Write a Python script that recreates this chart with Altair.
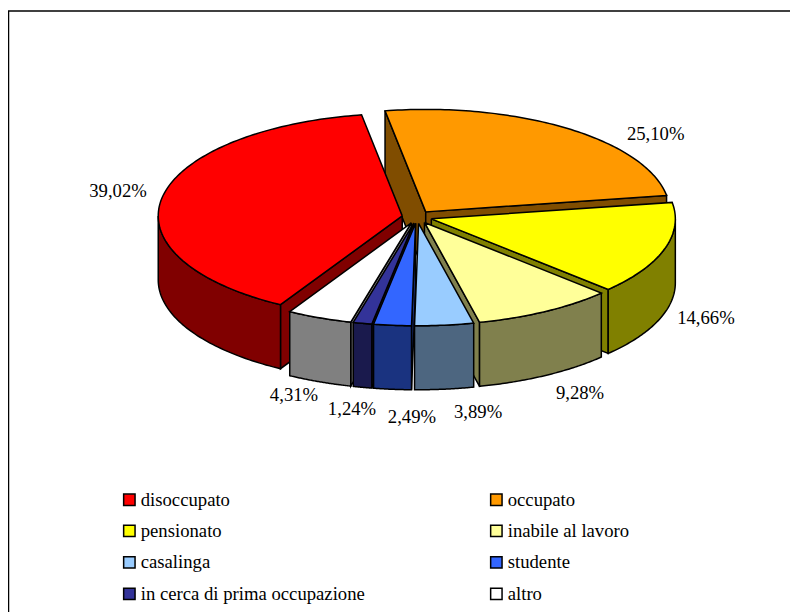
import math
import altair as alt
import pandas as pd

categories = ["disoccupato", "occupato", "pensionato", "inabile al lavoro", "casalinga",
              "studente", "in cerca di prima occupazione", "altro"]
values = [39.02, 25.10, 14.66, 9.28, 3.89, 2.49, 1.24, 4.31]
value_labels = ["39,02%", "25,10%", "14,66%", "9,28%", "3,89%", "2,49%", "1,24%", "4,31%"]
top_colors = ["#FF0000", "#FF9900", "#FFFF00", "#FFFF99", "#99CCFF", "#3366FF", "#333399", "#FFFFFF"]
wall_colors = ["#800000", "#804D00", "#808000", "#80804D", "#4D6680", "#1A3380", "#1A1A4D", "#808080"]

# 3-D pie view settings
FIRST_ANGLE = -150.07
CX, CY = 417.0, 217.0
RX, K, DEPTH, EXPLODE = 244.0, 0.42, 64.0, 15.0
label_dx = [-44, 88, 41.5, 34.5, 33.8, 19.5, -10.5, -25.4]
label_dy = [-7, 5.5, 69, 81.6, 86.8, 91.7, 85.6, 77]
FONT = "Liberation Serif"
FS = 18.7


def pt(ang, r, ax, ay, drop=0.0):
    t = math.radians(ang)
    return ax + r * math.sin(t), ay - K * r * math.cos(t) + drop


walls, tops, labels = [], [], []
slices = []
start = FIRST_ANGLE
for i, v in enumerate(values):
    end = start + v * 3.6
    slices.append((i, start, end, (start + end) / 2))
    start = end


def add(rows, pid, pts, **kw):
    for s, (x, y) in enumerate(pts):
        rows.append(dict(pid=pid, seq=s, x=x, y=y, **kw))


pid = 0
for i, a, b, mid in sorted(slices, key=lambda s: -math.cos(math.radians(s[3]))):
    ax, ay = pt(mid, EXPLODE, CX, CY)
    if math.sin(math.radians(a)) < 0:
        e = pt(a, RX, ax, ay)
        add(walls, pid, [(ax, ay), e, (e[0], e[1] + DEPTH), (ax, ay + DEPTH), (ax, ay)], wall=wall_colors[i])
        pid += 1
    if math.sin(math.radians(b)) > 0:
        e = pt(b, RX, ax, ay)
        add(walls, pid, [(ax, ay), e, (e[0], e[1] + DEPTH), (ax, ay + DEPTH), (ax, ay)], wall=wall_colors[i])
        pid += 1
    # outer rim wall: the part of the arc that faces the viewer
    vis = []
    for shift in (0, 360, -360):
        lo, hi = max(a, 90 + shift), min(b, 270 + shift)
        if hi > lo:
            vis = [lo + (hi - lo) * n / 60 for n in range(61)]
            break
    if vis:
        upper = [pt(t, RX, ax, ay) for t in vis]
        lower = [pt(t, RX, ax, ay, DEPTH) for t in reversed(vis)]
        add(walls, pid, upper + lower + [upper[0]], wall=wall_colors[i])
        pid += 1

for i, a, b, mid in slices:
    ax, ay = pt(mid, EXPLODE, CX, CY)
    n = max(4, int(b - a))
    rim = [pt(a + (b - a) * j / n, RX, ax, ay) for j in range(n + 1)]
    add(tops, 100 + i, [(ax, ay)] + rim + [(ax, ay)], cat=categories[i])
    rx, ry = pt(mid, RX + EXPLODE, CX, CY)
    labels.append(dict(x=rx + label_dx[i], y=ry + label_dy[i], t=value_labels[i]))

xs = alt.Scale(domain=[8, 790], range=[0, 782])
ys = alt.Scale(domain=[8, 612], range=[0, 604])
X = alt.X("x:Q", scale=xs, axis=None)
Y = alt.Y("y:Q", scale=ys, axis=None)

wall_layer = alt.Chart(pd.DataFrame(walls)).mark_line(
    stroke="black", strokeWidth=1.5, strokeJoin="miter", interpolate="linear", clip=False
).encode(
    x=X, y=Y, order="seq:Q", detail="pid:N",
    fill=alt.Fill("wall:N", scale=None, legend=None),
)

top_layer = alt.Chart(pd.DataFrame(tops)).mark_line(
    stroke="black", strokeWidth=1.5, strokeJoin="miter", interpolate="linear", clip=False
).encode(
    x=X, y=Y, order="seq:Q", detail="pid:N",
    fill=alt.Fill(
        "cat:N",
        scale=alt.Scale(domain=categories, range=top_colors),
        sort=categories,
        legend=alt.Legend(
            title=None, orient="none", legendX=112, legendY=482, columns=2, direction="horizontal",
            columnPadding=122, rowPadding=11.5, symbolType="square", symbolSize=130,
            symbolStrokeColor="black", symbolStrokeWidth=1.5, symbolOpacity=1,
            labelFont=FONT, labelFontSize=FS, labelColor="black", labelOffset=2,
            labelLimit=400,
        ),
    ),
)

text_layer = alt.Chart(pd.DataFrame(labels)).mark_text(
    font=FONT, fontSize=FS, color="black", align="center", baseline="middle"
).encode(x=X, y=Y, text="t:N")

left_border = alt.Chart(pd.DataFrame({"a": [0]})).mark_rule(color="black", strokeWidth=1.5).encode(
    x=alt.value(0.5), y=alt.value(3), y2=alt.value(604))
top_border = alt.Chart(pd.DataFrame({"a": [0]})).mark_rule(color="black", strokeWidth=1.5).encode(
    y=alt.value(3), x=alt.value(0), x2=alt.value(782))

chart = alt.layer(left_border, top_border, wall_layer, top_layer, text_layer).resolve_scale(
    fill="independent"
).properties(
    width=782, height=604, padding=0, autosize=alt.AutoSizeParams(type="none")
).configure_view(stroke=None)

chart.save("out.html", embed_options={"renderer": "svg", "actions": False})
